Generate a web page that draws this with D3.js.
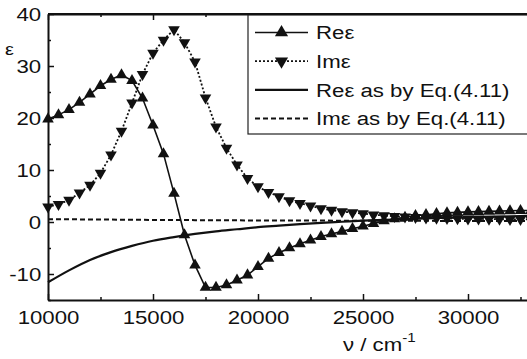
<!DOCTYPE html>
<html>
<head>
<meta charset="utf-8">
<script src="https://cdn.jsdelivr.net/npm/d3@7"></script>
<style>
  html, body { margin: 0; padding: 0; background: #fff; }
  svg { display: block; }
  text { font-family: "Liberation Sans", Arial, sans-serif; fill: #111; }
</style>
</head>
<body>
<svg id="chart" width="527" height="359"></svg>
<script>
// Wavenumbers of the measured points (cm^-1)
const nu = [10000, 10500, 11000, 11500, 12000, 12500, 13000, 13500, 14000, 14500,
  15000, 15500, 16000, 16500, 17000, 17500, 18000, 18500, 19000, 19500,
  20000, 20500, 21000, 21500, 22000, 22500, 23000, 23500, 24000, 24500,
  25000, 25500, 26000, 26500, 27000, 27500, 28000, 28500, 29000, 29500,
  30000, 30500, 31000, 31500, 32000, 32500, 33000];

// Real part of the dielectric function
const reEps = [19.8, 20.6, 21.6, 23.0, 24.6, 26.2, 27.4, 28.3, 27.2, 23.8,
  18.6, 13.1, 5.5, -2.5, -8.3, -12.6, -12.6, -12.1, -11.2, -10.2,
  -8.6, -7.0, -5.9, -5.0, -4.2, -3.5, -2.8, -2.3, -1.8, -1.3,
  -0.8, -0.3, 0.2, 0.6, 0.9, 1.2, 1.4, 1.6, 1.75, 1.85,
  1.95, 2.0, 2.05, 2.1, 2.15, 2.2, 2.2];

// Imaginary part of the dielectric function
const imEps = [2.9, 3.4, 4.2, 5.6, 7.1, 9.4, 12.9, 17.5, 22.9, 28.4,
  32.5, 35.0, 37.0, 34.5, 30.8, 23.9, 18.3, 14.2, 11.0, 8.4,
  6.8, 5.7, 4.9, 4.1, 3.6, 3.1, 2.6, 2.3, 2.0, 1.8,
  1.6, 1.4, 1.25, 1.1, 1.0, 0.9, 0.8, 0.75, 0.7, 0.65,
  0.6, 0.6, 0.55, 0.55, 0.5, 0.5, 0.5];

// Model curves from Eq.(4.11)
const nuModel = [10000, 11000, 12000, 13000, 14000, 15000, 16000, 17000, 18000, 19000,
  20000, 21000, 22000, 23000, 24000, 25000, 26000, 27000, 28000, 29000,
  30000, 31000, 32000, 33000];
const reModel = [-11.6, -9.3, -7.3, -5.8, -4.6, -3.6, -2.9, -2.3, -1.8, -1.4,
  -1.0, -0.7, -0.4, -0.15, 0.05, 0.25, 0.4, 0.55, 0.7, 0.8,
  0.9, 1.0, 1.1, 1.2];
const imModel = [0.55, 0.52, 0.49, 0.46, 0.43, 0.4, 0.38, 0.36, 0.34, 0.32,
  0.3, 0.29, 0.28, 0.27, 0.26, 0.25, 0.24, 0.23, 0.22, 0.21,
  0.2, 0.2, 0.2, 0.2];

// Axis ticks
const xMajor = [10000, 15000, 20000, 25000, 30000];
const xMinor = [12500, 17500, 22500, 27500, 32500];
const yMajor = [-10, 0, 10, 20, 30, 40];
const yMinor = [-15, -5, 5, 15, 25, 35];

const legendLabels = ["Re\u03b5", "Im\u03b5", "Re\u03b5 as by Eq.(4.11)", "Im\u03b5 as by Eq.(4.11)"];

const SX = 1.17; // horizontal stretch of the lettering

const svg = d3.select("#chart");
const x = d3.scaleLinear().domain([10000, 33000]).range([48, 531]);
const y = d3.scaleLinear().domain([-15, 40]).range([300, 14]);

// Axes: ticks point inward, minor ticks shorter
function styleAxis(g) {
  g.selectAll("path.domain").attr("stroke", "#111").attr("stroke-width", 2);
  g.selectAll(".tick line").attr("stroke", "#111").attr("stroke-width", 1.5);
}
const intFmt = v => String(v).replace("\u2212", "-");

const axBottom = svg.append("g").attr("transform", "translate(0,300)")
  .call(d3.axisBottom(x).tickValues(xMajor).tickSize(-6).tickSizeOuter(0).tickPadding(0).tickFormat(intFmt));
axBottom.selectAll("text").attr("font-size", 19).attr("y", 24).attr("dy", 0)
  .attr("transform", `scale(${SX},1)`);
svg.append("g").attr("transform", "translate(0,300)")
  .call(d3.axisBottom(x).tickValues(xMinor).tickSize(-3).tickFormat(""))
  .call(g => g.select(".domain").remove()).call(styleAxis);
styleAxis(axBottom);

const axTop = svg.append("g").attr("transform", "translate(0,14)")
  .call(d3.axisTop(x).tickValues(xMajor).tickSize(-6).tickSizeOuter(0).tickFormat(""));
svg.append("g").attr("transform", "translate(0,14)")
  .call(d3.axisTop(x).tickValues(xMinor).tickSize(-3).tickFormat(""))
  .call(g => g.select(".domain").remove()).call(styleAxis);
styleAxis(axTop);

const axLeft = svg.append("g").attr("transform", "translate(48,0)")
  .call(d3.axisLeft(y).tickValues(yMajor).tickSize(-6).tickSizeOuter(0).tickFormat(intFmt));
axLeft.selectAll("text").attr("font-size", 19).attr("x", -5.8).attr("dy", "0.35em")
  .attr("transform", `scale(${SX},1)`);
svg.append("g").attr("transform", "translate(48,0)")
  .call(d3.axisLeft(y).tickValues(yMinor).tickSize(-3).tickFormat(""))
  .call(g => g.select(".domain").remove()).call(styleAxis);
styleAxis(axLeft);

// Axis titles
svg.append("text").attr("font-size", 17)
  .attr("transform", `translate(5,55) scale(${SX},1)`).text("\u03b5");
const xt = svg.append("text").attr("font-size", 19)
  .attr("transform", `translate(343,351) scale(${SX},1)`);
xt.append("tspan").text("\u03bd / cm");
xt.append("tspan").attr("font-size", 13).attr("dy", -9).text("-1");

// Data
const reData = nu.map((v, i) => [v, reEps[i]]);
const imData = nu.map((v, i) => [v, imEps[i]]);
const reModelData = nuModel.map((v, i) => [v, reModel[i]]);
const imModelData = nuModel.map((v, i) => [v, imModel[i]]);

const line = d3.line().x(d => x(d[0])).y(d => y(d[1]));
const smooth = d3.line().x(d => x(d[0])).y(d => y(d[1])).curve(d3.curveMonotoneX);

const plot = svg.append("g");
plot.append("path").datum(imModelData).attr("d", smooth)
  .attr("fill", "none").attr("stroke", "#111").attr("stroke-width", 2).attr("stroke-dasharray", "5,3");
plot.append("path").datum(reModelData).attr("d", smooth)
  .attr("fill", "none").attr("stroke", "#111").attr("stroke-width", 2.2);
plot.append("path").datum(imData).attr("d", line)
  .attr("fill", "none").attr("stroke", "#111").attr("stroke-width", 1.8).attr("stroke-dasharray", "2,2");
plot.append("path").datum(reData).attr("d", line)
  .attr("fill", "none").attr("stroke", "#111").attr("stroke-width", 1.6);

const tri = d3.symbol(d3.symbolTriangle, 58);
plot.selectAll("path.im").data(imData).join("path").attr("class", "im")
  .attr("d", tri).attr("fill", "#111")
  .attr("transform", d => `translate(${x(d[0])},${y(d[1])}) rotate(180)`);
plot.selectAll("path.re").data(reData).join("path").attr("class", "re")
  .attr("d", tri).attr("fill", "#111")
  .attr("transform", d => `translate(${x(d[0])},${y(d[1])})`);

// Legend
const lg = svg.append("g");
lg.append("rect").attr("x", 248).attr("y", 15).attr("width", 290).attr("height", 119)
  .attr("fill", "#fff").attr("stroke", "#222").attr("stroke-width", 1.2);
const styles = [
  { dash: null, w: 1.6, marker: "up" },
  { dash: "2,2", w: 1.8, marker: "down" },
  { dash: null, w: 2.2, marker: null },
  { dash: "5,3", w: 2, marker: null }
];
legendLabels.forEach((lab, i) => {
  const cy = 32.5 + i * 28.7;
  const s = styles[i];
  lg.append("line").attr("x1", 255).attr("x2", 308).attr("y1", cy).attr("y2", cy)
    .attr("stroke", "#111").attr("stroke-width", s.w).attr("stroke-dasharray", s.dash);
  if (s.marker) {
    lg.append("path").attr("d", d3.symbol(d3.symbolTriangle, 75)).attr("fill", "#111")
      .attr("transform", `translate(281.5,${cy})` + (s.marker === "down" ? " rotate(180)" : ""));
  }
  lg.append("text").attr("font-size", 19).attr("dy", "0.35em")
    .attr("transform", `translate(316,${cy}) scale(${SX},1)`).text(lab);
});
// top frame line over the legend edge
svg.append("line").attr("x1", 48).attr("x2", 531).attr("y1", 14).attr("y2", 14)
  .attr("stroke", "#111").attr("stroke-width", 2);
</script>
</body>
</html>
